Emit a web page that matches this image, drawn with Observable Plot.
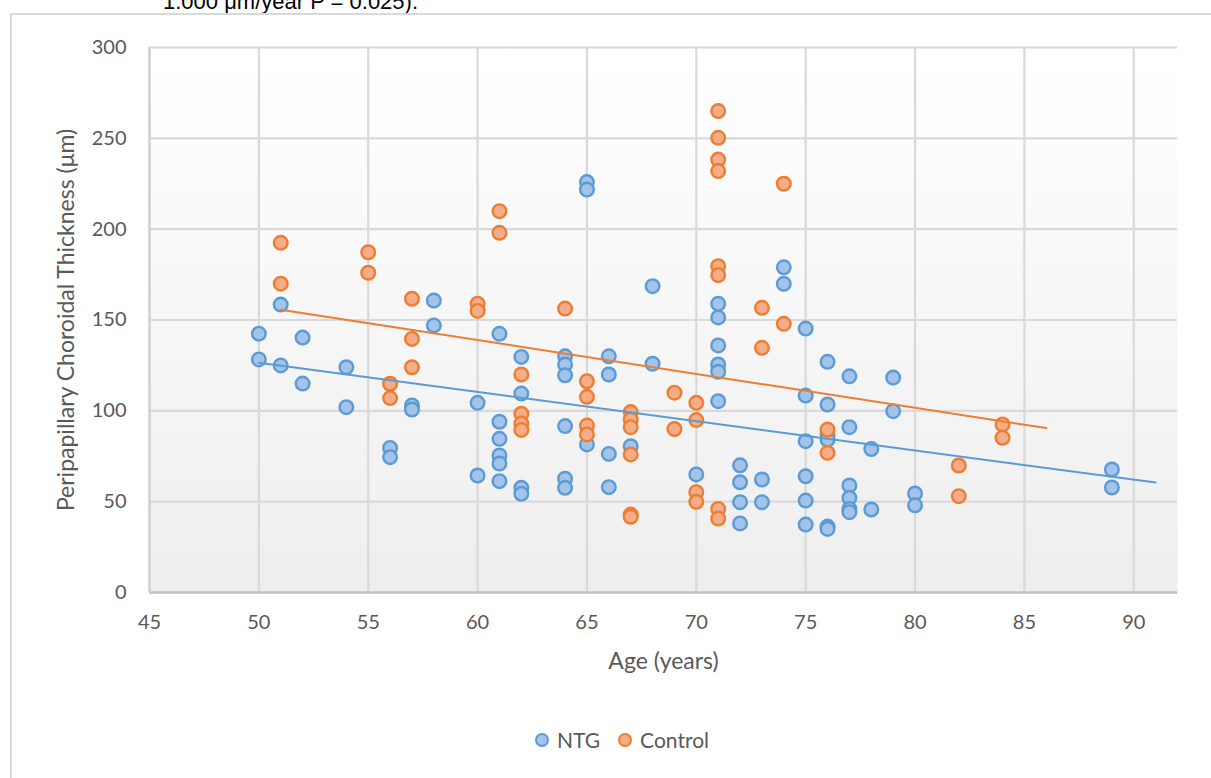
<!DOCTYPE html>
<html>
<head>
<meta charset="utf-8">
<script src="https://cdn.jsdelivr.net/npm/d3@7"></script>
<script src="https://cdn.jsdelivr.net/npm/@observablehq/plot@0.6"></script>
<style>
  html, body { margin: 0; padding: 0; background: #fff; }
  body { width: 1211px; height: 778px; overflow: hidden; position: relative; font-family: Lato, "Open Sans", sans-serif; }
  #cap { position: absolute; left: 0; top: 0; width: 1211px; height: 13px; overflow: hidden; }
  #cap span { position: absolute; left: 163px; top: -11px; font: 22px "Liberation Sans", Arial, sans-serif; color: #000; white-space: nowrap; }
  #border { position: absolute; left: 10px; top: 13px; width: 1300px; height: 900px; border: 2px solid #d9d9d9; box-sizing: border-box; }
  #chart { position: absolute; left: 0; top: 0; }
  #legend { position: absolute; left: 535px; top: 727px; display: flex; align-items: center; font-size: 21px; color: #595959; font-family: Lato, sans-serif; }
  #legend .sw { width: 10px; height: 10px; border-radius: 50%; border: 2px solid; margin-right: 8px; }
  #legend .item { display: flex; align-items: center; margin-right: 18px; }
</style>
</head>
<body>
<div id="cap"><span>1.000 μm/year P = 0.025).</span></div>
<div id="border"></div>
<div id="chart"></div>
<div id="legend"></div>
<script>
// ---- Data ----
const seriesNames = ["NTG", "Control"];
const seriesStroke = ["#5b9bd5", "#ed7d31"];
const seriesFill = ["#a3c3e9", "#f4ad88"];

const ntgAge = [
  50, 50, 51, 51, 52, 52, 54, 54, 56, 56, 57, 57, 58, 58, 60, 60,
  61, 61, 61, 61, 61, 61, 62, 62, 62, 62,
  64, 64, 64, 64, 64, 64, 65, 65, 65, 66, 66, 66, 66, 67, 68, 68, 70,
  71, 71, 71, 71, 71, 71, 72, 72, 72, 72, 73, 73, 74, 74,
  75, 75, 75, 75, 75, 75, 76, 76, 76, 76, 76, 76,
  77, 77, 77, 77, 77, 77, 78, 78, 79, 79, 80, 80, 89, 89
];
const ntgValue = [
  142.5, 128.3, 158.5, 125, 140.3, 115, 124, 102, 79.6, 74.5, 103, 100.7, 160.7, 147, 104.4, 64.4,
  142.4, 94, 84.6, 75.4, 71, 61.3, 129.7, 109.5, 57.6, 54.3,
  130, 125.5, 119.6, 91.6, 62.6, 57.6, 225.9, 221.8, 81.5, 130, 120, 76.3, 58, 80.5, 168.6, 125.9, 65,
  158.9, 151.4, 136, 125.5, 121.5, 105.3, 70, 60.7, 49.7, 38, 62.2, 49.7, 179, 169.9,
  145.3, 108.4, 83.3, 64, 50.6, 37.4, 127, 103.5, 87, 84.2, 36.3, 35,
  119, 91, 58.9, 52.1, 46, 44.2, 79, 45.7, 118.3, 99.8, 54.5, 48, 67.7, 57.8
];

const controlAge = [
  51, 51, 55, 55, 56, 56, 57, 57, 57, 60, 60, 61, 61, 62, 62, 62, 62, 64,
  65, 65, 65, 65, 67, 67, 67, 67, 67, 67, 69, 69, 70, 70, 70, 70,
  71, 71, 71, 71, 71, 71, 71, 71, 73, 73, 74, 74, 76, 76, 82, 82, 84, 84
];
const controlValue = [
  192.5, 170, 187.3, 176, 114.9, 107, 161.7, 139.6, 124, 159, 155, 209.9, 198, 120, 98.4, 93, 89.5, 156.3,
  116.3, 107.7, 91.9, 87, 99.3, 95.2, 91, 76, 42.9, 41.7, 110, 90, 104.4, 94.9, 55.2, 49.9,
  265, 250.3, 238.3, 232, 179.6, 174.7, 46, 40.7, 156.7, 134.7, 225, 147.9, 89.7, 76.9, 69.9, 53, 92.5, 85.2
];

const xTicks = [45, 50, 55, 60, 65, 70, 75, 80, 85, 90];
const yTicks = [0, 50, 100, 150, 200, 250, 300];
const xTitle = "Age (years)";
const yTitle = "Peripapillary Choroidal Thickness (μm)";
const trendForward = 2; // trendline forecast (years)

// ---- Build tables ----
const ntg = ntgAge.map((a, i) => ({age: a, value: ntgValue[i]}));
const control = controlAge.map((a, i) => ({age: a, value: controlValue[i]}));

function trend(ages, vals) {
  const n = ages.length;
  const mx = d3.mean(ages), my = d3.mean(vals);
  let sxy = 0, sxx = 0;
  for (let i = 0; i < n; i++) { sxy += (ages[i] - mx) * (vals[i] - my); sxx += (ages[i] - mx) ** 2; }
  const b = sxy / sxx, a = my - b * mx;
  const x0 = d3.min(ages), x1 = d3.max(ages) + trendForward;
  return [{age: x0, value: a + b * x0}, {age: x1, value: a + b * x1}];
}
const ntgTrend = trend(ntgAge, ntgValue);
const controlTrend = trend(controlAge, controlValue);

const font = "Lato, 'Open Sans', sans-serif";

const chart = Plot.plot({
  width: 1211,
  height: 700,
  marginLeft: 149,
  marginRight: 34,
  marginTop: 47,
  marginBottom: 108,
  style: { fontFamily: font, fontSize: "20px", color: "#595959", background: "transparent", overflow: "visible" },
  x: { domain: [45, 92], ticks: xTicks, label: null },
  y: { domain: [0, 300], ticks: yTicks, label: null },
  marks: [
    Plot.frame({ fill: "#ffffff", stroke: "none" }),
    Plot.gridX(xTicks, { stroke: "#d9d9d9", strokeOpacity: 1, strokeWidth: 2.2 }),
    Plot.gridY(yTicks, { stroke: "#d9d9d9", strokeOpacity: 1, strokeWidth: 2.2 }),
    Plot.ruleY([0], { stroke: "#c4c4c4", strokeWidth: 2.5 }),
    Plot.ruleX([45], { stroke: "#d0d0d0", strokeWidth: 2.2 }),
    Plot.axisX({ ticks: xTicks, tickSize: 0, tickPadding: 22, tickFormat: d => String(d), fill: "#595959", label: null }),
    Plot.axisX({ ticks: [], tickSize: 0, fontSize: 23, fill: "#595959",
      label: xTitle, labelAnchor: "center", labelOffset: 76, labelArrow: "none" }),
    Plot.axisY({ ticks: yTicks, tickSize: 0, tickPadding: 23, tickFormat: d => String(d), fill: "#595959", label: null }),
    Plot.axisY({ ticks: [], tickSize: 0, fontSize: 23, fill: "#595959",
      label: yTitle, labelAnchor: "center", labelOffset: 92, labelArrow: "none" }),
    Plot.dot(ntg, { x: "age", y: "value", r: 6.8, fill: seriesFill[0], stroke: seriesStroke[0], strokeWidth: 2.4 }),
    Plot.dot(control, { x: "age", y: "value", r: 6.8, fill: seriesFill[1], stroke: seriesStroke[1], strokeWidth: 2.4 }),
    Plot.line(ntgTrend, { x: "age", y: "value", stroke: seriesStroke[0], strokeWidth: 2 }),
    Plot.line(controlTrend, { x: "age", y: "value", stroke: seriesStroke[1], strokeWidth: 2 })
  ]
});

// subtle vertical gradient in the plotting area
const svg = d3.select(chart);
const defs = svg.insert("defs", ":first-child");
const g = defs.append("linearGradient").attr("id", "bgGrad").attr("x1", 0).attr("y1", 0).attr("x2", 0).attr("y2", 1);
g.append("stop").attr("offset", "0%").attr("stop-color", "#ffffff");
g.append("stop").attr("offset", "100%").attr("stop-color", "#eeeeee");
svg.select("[aria-label=frame]").attr("fill", "url(#bgGrad)");
svg.selectAll("[aria-label=frame] rect").attr("fill", "url(#bgGrad)");
document.getElementById("chart").appendChild(chart);

// legend
const leg = document.getElementById("legend");
seriesNames.forEach((name, i) => {
  const item = document.createElement("div");
  item.className = "item";
  const sw = document.createElement("div");
  sw.className = "sw";
  sw.style.background = seriesFill[i];
  sw.style.borderColor = seriesStroke[i];
  const t = document.createElement("span");
  t.textContent = name;
  item.appendChild(sw); item.appendChild(t);
  leg.appendChild(item);
});
</script>
</body>
</html>
